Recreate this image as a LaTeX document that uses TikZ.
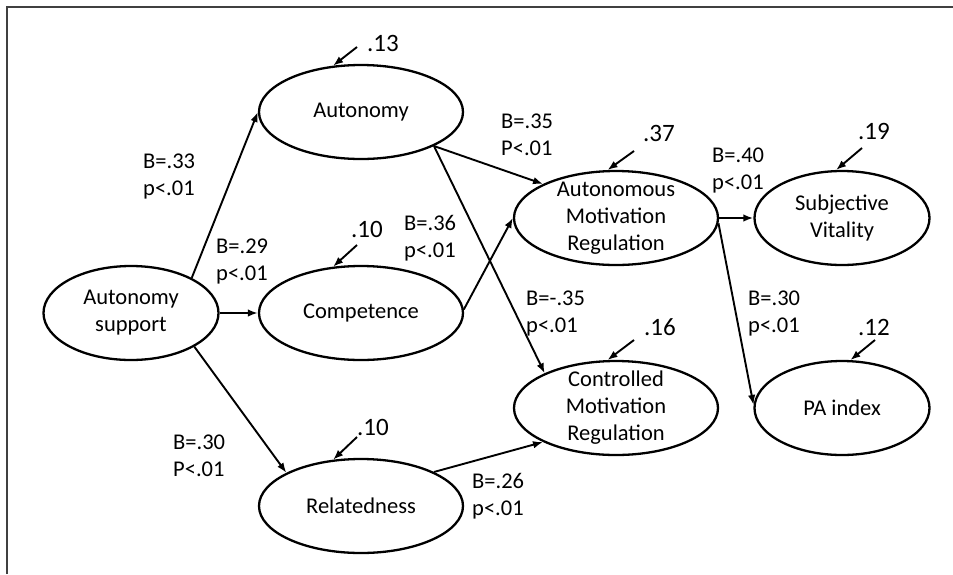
\documentclass[tikz,border=0pt]{standalone}
\usepackage{fontspec}
\setmainfont{Carlito}
\usetikzlibrary{shapes.geometric,arrows.meta}
\begin{document}
\begin{tikzpicture}[x=1pt,y=-1pt,
  font=\fontsize{22.5}{27}\selectfont,
  latent/.style={draw, ellipse, line width=2.3pt, inner sep=0pt},
  wide/.style={latent, minimum width=204pt, minimum height=94pt},
  narrow/.style={latent, minimum width=175pt, minimum height=94pt},
  arr/.style={-{Latex[length=10pt,width=7.5pt]}, line width=1.9pt},
  lab/.style={anchor=west, align=left, inner sep=0pt},
  res/.style={inner sep=0pt, font=\fontsize{25}{30}\selectfont},
  frame/.style={line width=1.5pt, black!75}]
\useasboundingbox (0,0) rectangle (953,574);
\draw[frame] (7,574) -- (7,7) -- (953,7);

% latent variables
\node[narrow, label={[align=center]center:Autonomy\\support}] (as) at (131,313) {};
\node[wide, label={center:Autonomy}] (aut) at (361,112) {};
\node[wide, label={center:Competence}] (com) at (361,313) {};
\node[wide, label={center:Relatedness}] (rel) at (361,506) {};
\node[wide, label={[align=center]center:Autonomous\\Motivation\\Regulation}] (amr) at (616,218) {};
\node[wide, label={[align=center]center:Controlled\\Motivation\\Regulation}] (cmr) at (616,408) {};
\node[narrow, label={[align=center]center:Subjective\\Vitality}] (sv) at (842,218) {};
\node[narrow, label={center:PA index}] (pa) at (842,408) {};

% paths
\draw[arr] (as.30) -- (aut.west);
\draw[arr] (as.east) -- (com.west);
\draw[arr] (as.-28) -- (rel.156);
\draw[arr] (aut.-25) -- (amr.155);
\draw[arr] (aut.-25) -- (cmr.154);
\draw[arr] (com.2) -- (amr.west);
\draw[arr] (rel.25) -- (cmr.205);
\draw[arr] (amr.east) -- (sv.west);
\draw[arr] (amr.-3) -- (pa.178);

% path labels
\node[lab] (l1) at (143,177) {B=.33\\p<.01};
\node[lab] (l2) at (216,262) {B=.29\\p<.01};
\node[lab] (l3) at (404,238) {B=.36\\p<.01};
\node[lab] (l4) at (501,135) {B=.35\\P<.01};
\node[lab] (l5) at (712,171) {B=.40\\p<.01};
\node[lab] (l6) at (526,314) {B=-.35\\p<.01};
\node[lab] (l7) at (748,314) {B=.30\\p<.01};
\node[lab] (l8) at (173,456) {B=.30\\P<.01};
\node[lab] (l9) at (472,496) {B=.26\\p<.01};

% residuals
\node[res] (r1) at (383,43) {.13};
\node[res] (r2) at (367,229) {.10};
\node[res] (r3) at (659,133) {.37};
\node[res] (r4) at (874,131) {.19};
\node[res] (r5) at (660,327) {.16};
\node[res] (r6) at (874,327) {.12};
\node[res] (r7) at (373,427) {.10};

\coordinate (e1) at (357,47);
\coordinate (e2) at (357,245);
\coordinate (e3) at (634,151);
\coordinate (e4) at (862,148);
\coordinate (e5) at (634,340);
\coordinate (e6) at (875,340);
\coordinate (e7) at (357,437);

\draw[arr] (e1) -- (aut.121);
\draw[arr] (e2) -- (com.121);
\draw[arr] (e3) -- (amr.100);
\draw[arr] (e4) -- (sv.97);
\draw[arr] (e5) -- (cmr.100);
\draw[arr] (e6) -- (pa.80);
\draw[arr] (e7) -- (rel.121);
\end{tikzpicture}
\end{document}
